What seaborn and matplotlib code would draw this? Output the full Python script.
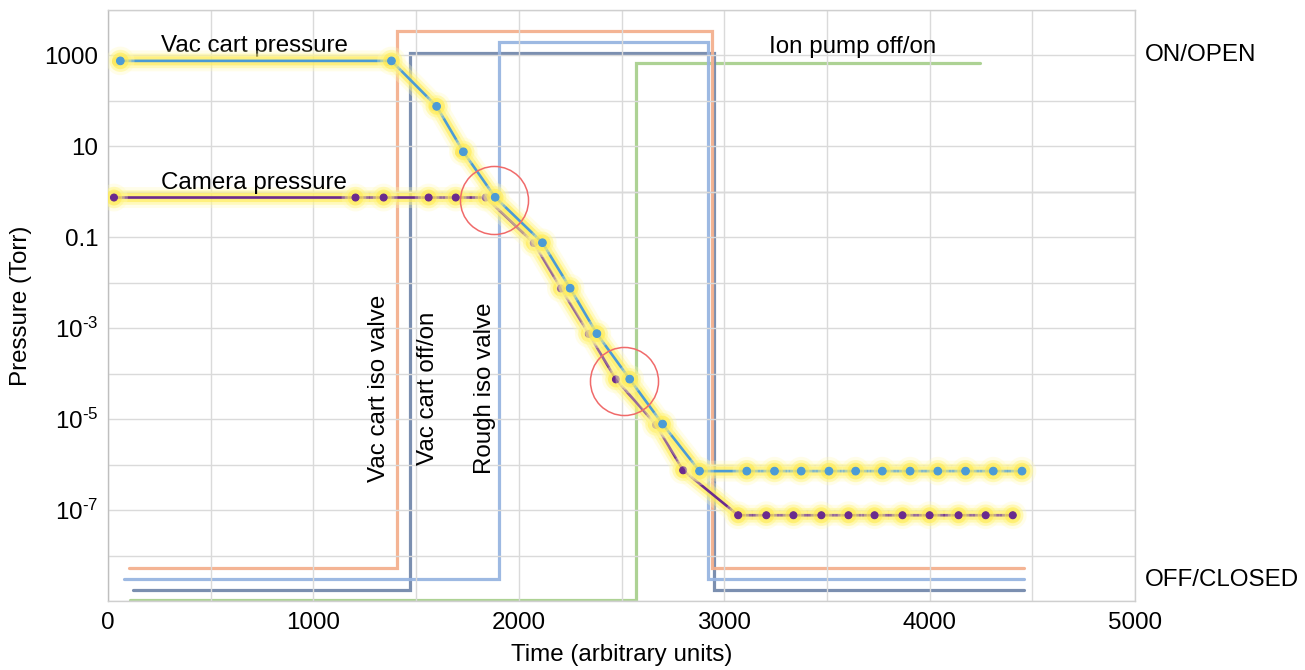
import math
import matplotlib
matplotlib.use("Agg")
import matplotlib.pyplot as plt
import matplotlib.patheffects as pe
import matplotlib.transforms as mtransforms
from matplotlib.ticker import FixedLocator, FuncFormatter, MultipleLocator
import pandas as pd
import seaborn as sns

# ---------------- data ----------------
vac_time = [60, 1380, 1600, 1730, 1885, 2115, 2250, 2380, 2540, 2700, 2880,
            3110, 3245, 3375, 3510, 3640, 3770, 3905, 4040, 4175, 4310, 4450]
vac_pressure = [760, 760, 76, 7.6, 0.76, 0.076, 7.6e-3, 7.6e-4, 7.6e-5, 7.8e-6, 7.2e-7,
                7.2e-7, 7.2e-7, 7.2e-7, 7.2e-7, 7.2e-7, 7.2e-7, 7.2e-7, 7.2e-7, 7.2e-7, 7.2e-7, 7.2e-7]

cam_time = [29, 1205, 1342, 1561, 1693, 1839, 2073, 2205, 2341, 2473, 2668, 2800,
            3068, 3205, 3337, 3473, 3605, 3732, 3868, 4000, 4141, 4273, 4405]
cam_pressure = [0.75, 0.75, 0.75, 0.75, 0.75, 0.75, 0.075, 7.5e-3, 7.5e-4, 7.5e-5, 7.5e-6, 7.5e-7,
                7.7e-8, 7.7e-8, 7.7e-8, 7.7e-8, 7.7e-8, 7.7e-8, 7.7e-8, 7.7e-8, 7.7e-8, 7.7e-8, 7.7e-8]

# valve / pump states (0 = OFF/CLOSED, 1 = ON/OPEN), step-post
iso_time = [100, 1405, 2940, 4460]
iso_state = [0, 1, 0, 0]
rough_time = [80, 1905, 2920, 4460]
rough_state = [0, 1, 0, 0]
cart_time = [120, 1470, 2950, 4460]
cart_state = [0, 1, 0, 0]
ion_time = [105, 2570, 4245]
ion_state = [0, 1, 1]

circle_time = [1878, 2512]
circle_pressure = [0.66, 6.9e-5]

y_tick_values = [1e3, 1e1, 1e-1, 1e-3, 1e-5, 1e-7]
y_tick_labels = ["1000", "10", "0.1",
                 "10$^{\\mathregular{\u20103}}$", "10$^{\\mathregular{\u20105}}$", "10$^{\\mathregular{\u20107}}$"]
x_ticks = [0, 1000, 2000, 3000, 4000, 5000]

# ---------------- style ----------------
sns.set_theme(style="white")
plt.rcParams["font.family"] = ["Liberation Sans", "DejaVu Sans"]
plt.rcParams["mathtext.fontset"] = "custom"
plt.rcParams["mathtext.rm"] = "Liberation Sans"
plt.rcParams["mathtext.it"] = "Liberation Sans"
plt.rcParams["text.color"] = "black"
plt.rcParams["axes.labelcolor"] = "black"
FS = 17.4

fig = plt.figure(figsize=(13.05, 6.70), dpi=100)
ax = fig.add_axes([108 / 1305, 69 / 670, 1027 / 1305, 591 / 670])
ax2 = ax.twinx()
ax.set_zorder(ax2.get_zorder() + 1)
ax.patch.set_visible(False)

# ---- state lines on twin axis ----
state_specs = [
    (ion_time, ion_state, "#A9D08E", 0.0),
    (cart_time, cart_state, "#7489AC", 0.019),
    (rough_time, rough_state, "#98B5E1", 0.039),
    (iso_time, iso_state, "#F4B08E", 0.059),
]
for t, s, col, off in state_specs:
    df = pd.DataFrame({"t": t, "s": [v + off for v in s]})
    sns.lineplot(data=df, x="t", y="s", ax=ax2, color=col, lw=2.3,
                 drawstyle="steps-post", estimator=None, sort=False,
                 solid_joinstyle="miter", alpha=0.95)
ax2.set_ylim(-0.002, 1.099)
ax2.set_yticks([])
ax2.set_ylabel("")
for sp in ax2.spines.values():
    sp.set_visible(False)

# ---- glow + pressure lines ----
glow = [pe.Stroke(linewidth=15, foreground="#FFFBB8", alpha=0.3),
        pe.Stroke(linewidth=10.5, foreground="#FFF47A", alpha=0.4),
        pe.Stroke(linewidth=6.5, foreground="#FFEB55", alpha=0.6),
        pe.Normal()]

vac_df = pd.DataFrame({"t": vac_time, "p": vac_pressure})
cam_df = pd.DataFrame({"t": cam_time, "p": cam_pressure})

# gold echo markers slightly left of the blue markers
shift = mtransforms.offset_copy(ax.transData, fig=fig, x=-4, y=0, units="dots")
ax.plot(vac_time, vac_pressure, ls="none", marker="o", ms=5.5, color="#F2B51E",
        transform=shift, zorder=2)

sns.lineplot(data=cam_df, x="t", y="p", ax=ax, color="#6A2A8E", lw=1.9,
             marker="o", ms=5, mec="#6A2A8E", estimator=None, sort=False,
             path_effects=glow, zorder=3)
sns.lineplot(data=vac_df, x="t", y="p", ax=ax, color="#4B9BD6", lw=1.9,
             marker="o", ms=5.5, mec="#4B9BD6", estimator=None, sort=False,
             path_effects=glow, zorder=4)

# red circles
ax.plot(circle_time, circle_pressure, ls="none", marker="o", ms=49, mfc="none",
        mec="#F06A6A", mew=1.1, zorder=5)

# ---- axes ----
ax.set_yscale("log")
ax.set_ylim(1e-9, 1e4)
ax.set_xlim(0, 5000)
ax.yaxis.set_major_locator(FixedLocator([10.0 ** k for k in range(-9, 5)]))
ax.yaxis.set_minor_locator(FixedLocator([]))
lab = dict(zip([round(math.log10(v)) for v in y_tick_values], y_tick_labels))
ax.yaxis.set_major_formatter(FuncFormatter(
    lambda v, pos: lab.get(round(math.log10(v)), "") if v > 0 else ""))
ax.set_xticks(x_ticks)
ax.xaxis.set_minor_locator(MultipleLocator(500))
ax.grid(True, which="major", axis="y", color="#DADADA", lw=1.0)
ax.grid(True, which="both", axis="x", color="#DADADA", lw=1.0)
ax.axhline(1.0, color="#BDBDBD", lw=1.0, zorder=0.5)
ax.tick_params(axis="both", which="both", length=0, labelsize=FS, colors="black")
ax.tick_params(axis="y", pad=7)
ax.tick_params(axis="x", pad=8)
for sp in ax.spines.values():
    sp.set_color("#CFCFCF")
    sp.set_linewidth(1.0)
ax.spines["left"].set_color("#BFBFBF")

ax.set_xlabel("Time (arbitrary units)", fontsize=FS, labelpad=7)
ax.set_ylabel("Pressure (Torr)", fontsize=FS, labelpad=9)

# ---- annotations ----
ax.text(712, 1620, "Vac cart pressure", fontsize=FS, ha="center", va="center")
ax.text(712, 1.57, "Camera pressure", fontsize=FS, ha="center", va="center")
ax.text(3624, 1550, "Ion pump off/on", fontsize=FS, ha="center", va="center")
vt = mtransforms.blended_transform_factory(ax.transData, ax.transAxes)
ax.text(1317, 0.36, "Vac cart iso valve", fontsize=FS, rotation=90, ha="center", va="center", transform=vt)
ax.text(1556, 0.36, "Vac cart off/on", fontsize=FS, rotation=90, ha="center", va="center", transform=vt)
ax.text(1834, 0.36, "Rough iso valve", fontsize=FS, rotation=90, ha="center", va="center", transform=vt)
ax.text(1.0097, 0.924, "ON/OPEN", fontsize=FS, ha="left", va="center", transform=ax.transAxes)
ax.text(1.0097, 0.0355, "OFF/CLOSED", fontsize=FS, ha="left", va="center", transform=ax.transAxes)

fig.savefig("out.png", dpi=100)
